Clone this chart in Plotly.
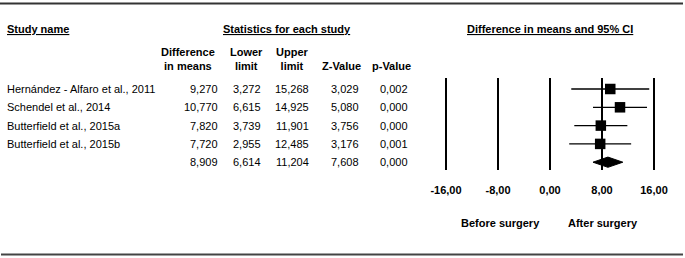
import plotly.graph_objects as go

# ---------------- data ----------------
studies = ["Hernández - Alfaro et al., 2011", "Schendel et al., 2014",
           "Butterfield et al., 2015a", "Butterfield et al., 2015b", ""]
diff = [9.270, 10.770, 7.820, 7.720, 8.909]
lower = [3.272, 6.615, 3.739, 2.955, 6.614]
upper = [15.268, 14.925, 11.901, 12.485, 11.204]
zval = [3.029, 5.080, 3.756, 3.176, 7.608]
pval = [0.002, 0.000, 0.000, 0.001, 0.000]
tick_vals = [-16, -8, 0, 8, 16]
tick_text = ["-16,00", "-8,00", "0,00", "8,00", "16,00"]
col_headers = ["Difference<br>in means", "Lower<br>limit", "Upper<br>limit", "Z-Value", "p-Value"]
section_headers = ["Study name", "Statistics for each study", "Difference in means and 95% CI"]
side_labels = ["Before surgery", "After surgery"]

W, H = 685, 258
FONT = "Liberation Sans, Arial, sans-serif"


def px(x):
    return x / W


def py(y):
    return 1 - y / H


def fmt(v, d=3):
    return f"{v:.{d}f}".replace(".", ",")


n_study = 4
rows = list(range(len(diff)))

fig = go.Figure()

# study squares with CI lines
fig.add_trace(go.Scatter(
    x=diff[:n_study], y=rows[:n_study], mode="markers",
    marker=dict(symbol="square", size=10.5, color="black"),
    error_x=dict(type="data", symmetric=False,
                 array=[u - d for u, d in zip(upper[:n_study], diff[:n_study])],
                 arrayminus=[d - l for d, l in zip(diff[:n_study], lower[:n_study])],
                 color="black", thickness=1.3, width=0),
    hoverinfo="skip", showlegend=False))

# summary diamond
s = n_study
h = 0.28
fig.add_trace(go.Scatter(
    x=[lower[s], diff[s], upper[s], diff[s], lower[s]],
    y=[rows[s], rows[s] - h, rows[s], rows[s] + h, rows[s]],
    mode="lines", fill="toself", fillcolor="black",
    line=dict(color="black", width=1), hoverinfo="skip", showlegend=False))

# x axis: -16 at px 446, 16 at px 654 -> 6.5 px/unit
x0, x1 = -20, 20
dom_x = [px(550 + 6.5 * x0), px(550 + 6.5 * x1)]
# y: row i at pixel 89 + 18.3*i, domain pixels 78..170
sp = 18.3
y_top, y_bot = 78, 170
r_top = (y_top - 89) / sp
r_bot = (y_bot - 89) / sp

fig.update_xaxes(domain=dom_x, range=[x0, x1], tickvals=tick_vals, ticktext=tick_text,
                 showgrid=True, gridcolor="black", gridwidth=2, zeroline=False,
                 showline=False, ticks="", ticklabelstandoff=12,
                 tickfont=dict(family=FONT, size=11, color="black", weight="bold"))
fig.update_yaxes(domain=[py(y_bot), py(y_top)], range=[r_bot, r_top],
                 showgrid=False, zeroline=False, showticklabels=False, showline=False)

ann = []
# section headers
hdr_pos = [(5, "left"), (287, "center"), (550, "center")]
for t, (x, anc) in zip(section_headers, hdr_pos):
    ann.append(dict(text=t, x=px(x), y=py(29), xref="paper", yref="paper",
                    xanchor=anc, yanchor="middle", showarrow=False,
                    font=dict(family=FONT, size=11, color="black", weight="bold",
                              lineposition="under")))
# column headers
hx = [188, 246, 292, 341, 391]
for t, x in zip(col_headers, hx):
    two = "<br>" in t
    ann.append(dict(text=t, x=px(x), y=py(66) if not two else py(59.5), xref="paper", yref="paper",
                    xanchor="center", yanchor="middle", showarrow=False, align="center",
                    font=dict(family=FONT, size=11, color="black", weight="bold")))
# table values
col_right = [220, 263, 311, 361, 410]
for i in rows:
    ann.append(dict(text=studies[i], x=px(5), y=rows[i], xref="paper", yref="y",
                    xanchor="left", yanchor="middle", showarrow=False,
                    font=dict(family=FONT, size=11, color="black")))
    vals = [fmt(diff[i]), fmt(lower[i]), fmt(upper[i]), fmt(zval[i]), fmt(pval[i])]
    for v, x in zip(vals, col_right):
        ann.append(dict(text=v, x=px(x), y=rows[i], xref="paper", yref="y",
                        xanchor="right", yanchor="middle", showarrow=False,
                        font=dict(family=FONT, size=11, color="black")))
# side labels
for t, x in zip(side_labels, [500, 603]):
    ann.append(dict(text=t, x=px(x), y=py(223), xref="paper", yref="paper",
                    xanchor="center", yanchor="middle", showarrow=False,
                    font=dict(family=FONT, size=11, color="black", weight="bold")))

shapes = [
    dict(type="line", xref="paper", yref="paper", x0=px(0), x1=px(683), y0=py(3.5), y1=py(3.5),
         line=dict(color="#333333", width=2)),
    dict(type="line", xref="paper", yref="paper", x0=px(1), x1=px(683), y0=py(254.5), y1=py(254.5),
         line=dict(color="#444444", width=2)),
]

fig.update_layout(width=W, height=H, margin=dict(l=0, r=0, t=0, b=0),
                  paper_bgcolor="white", plot_bgcolor="white",
                  annotations=ann, shapes=shapes, showlegend=False)

fig.write_html("out.html", config={"displayModeBar": False},
               post_script="document.body.style.margin='0';document.body.style.overflow='hidden';")
